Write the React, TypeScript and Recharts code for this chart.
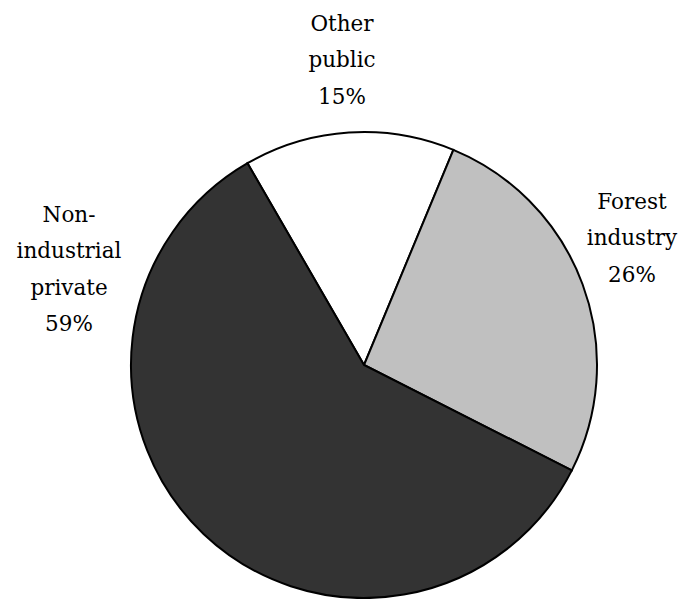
import React from "react";
import { PieChart, Pie, Cell } from "recharts";

const categories = ["Other public", "Forest industry", "Non-industrial private"];
const values = [14.6, 26.2, 59.2];
const labelLines = [["Other", "public"], ["Forest", "industry"], ["Non-", "industrial", "private"]];

const colors = ["#ffffff", "#c0c0c0", "#333333"];
// label placement: offset (dx, dy) of the middle baseline relative to pie centre
const labelOffsets = [
  [-22, -298],
  [268, -120],
  [-295, -88.5],
];

const data = categories.map((name, i) => ({ name, value: values[i] }));

const FONT = "DejaVu Serif";
const FONT_SIZE = 21.5;
const LH = 36.5;

const renderLabel = (props: any) => {
  const { cx, cy, index, percent } = props;
  const lines = [...labelLines[index], `${Math.round(percent * 100)}%`];
  const [dx, dy] = labelOffsets[index];
  const x = cx + dx;
  const midY = cy + dy;
  const n = lines.length;
  return (
    <text
      key={`lbl-${index}`}
      x={x}
      textAnchor="middle"
      fontFamily={FONT}
      fontSize={FONT_SIZE}
      fill="#000"
    >
      {lines.map((l, i) => (
        <tspan key={i} x={x} y={midY + (i - (n - 1) / 2) * LH}>
          {l}
        </tspan>
      ))}
    </text>
  );
};

export default function App() {
  return (
    <div style={{ width: 688, height: 607, margin: -8, background: "#fff" }}>
      <PieChart width={688} height={607} margin={{ top: 0, right: 0, bottom: 0, left: 0 }}>
        <Pie
          data={data}
          dataKey="value"
          nameKey="name"
          cx={364}
          cy={365}
          outerRadius={233}
          startAngle={120}
          endAngle={-240}
          stroke="#000"
          strokeWidth={2}
          label={renderLabel}
          labelLine={false}
          isAnimationActive={false}
        >
          {data.map((d, i) => (
            <Cell key={d.name} fill={colors[i]} stroke="#000" strokeWidth={2} />
          ))}
        </Pie>
      </PieChart>
    </div>
  );
}
